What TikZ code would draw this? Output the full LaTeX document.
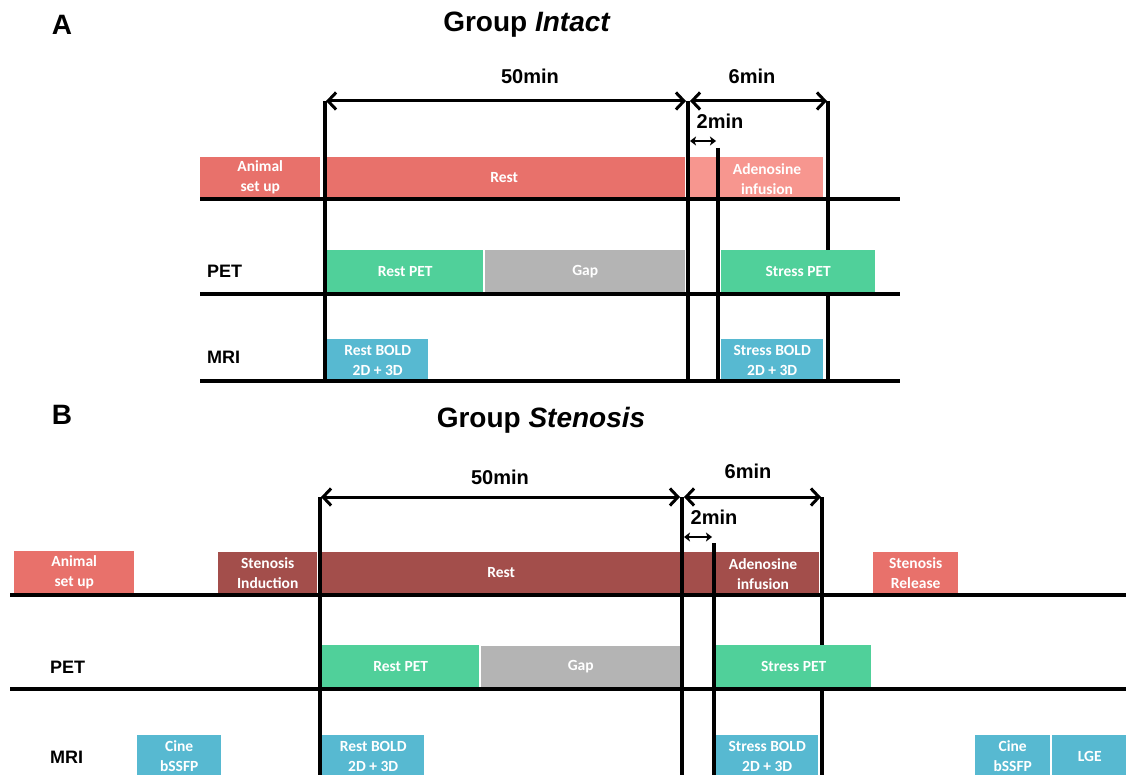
\documentclass[tikz,border=0pt]{standalone}
\usepackage{fontspec}
\setmainfont{Liberation Sans}
\newfontfamily\boxfont{Carlito}
\usetikzlibrary{arrows.meta}
\definecolor{salmon}{HTML}{E8716B}
\definecolor{pinkl}{HTML}{F7968F}
\definecolor{darkred}{HTML}{A34E4B}
\definecolor{petgreen}{HTML}{50D09A}
\definecolor{gapgray}{HTML}{B4B4B4}
\definecolor{mriblue}{HTML}{57B9D1}
\begin{document}
\begin{tikzpicture}[x=1pt,y=-1pt,
 box/.style={rectangle, inner sep=0pt, anchor=north west, text=white, align=center,
   font=\boxfont\bfseries\fontsize{15.5}{20}\selectfont},
 boxtext/.style={text=white, align=center, inner sep=0pt, font=\boxfont\bfseries\fontsize{15.5}{20}\selectfont},
 rowlab/.style={font=\bfseries\fontsize{18}{20}\selectfont, anchor=west, inner sep=0pt},
 dimlab/.style={font=\bfseries\fontsize{20}{22}\selectfont, inner sep=0pt},
 headlab/.style={font=\bfseries\fontsize{28}{30}\selectfont, inner sep=0pt},
 tline/.style={line width=3.5pt},
 vline/.style={line width=3.5pt},
 dimarrow/.style={line width=3pt, {Straight Barb[length=8pt,width=17pt]}-{Straight Barb[length=8pt,width=17pt]}},
 smallarrow/.style={line width=2.2pt, {Stealth[length=6pt,width=9pt,inset=1.5pt]}-{Stealth[length=6pt,width=9pt,inset=1.5pt]}},
]
\useasboundingbox (0,0) rectangle (1126,775);

% ================= PART A =================
\node[headlab] (hA) at (62,25) {A};
\node[headlab] (tA) at (527,25) {Group \textit{Intact}};

% row 1 boxes
\node[box, fill=salmon, minimum width=120pt, minimum height=40pt] (aSetup) at (200,157) {Animal\\set up};
\node[box, fill=salmon, minimum width=362pt, minimum height=40pt] (aRest) at (323,157) {Rest};
\node[box, fill=pinkl, minimum width=133pt, minimum height=40pt] (aAdeno) at (690,157) {};
\node[boxtext] (aAdenoT) at (767,179) {Adenosine\\infusion};

% vertical lines
\coordinate (a1t) at (325,101); \coordinate (a1b) at (325,383);
\coordinate (a2t) at (688,101); \coordinate (a2b) at (688,383);
\coordinate (a3t) at (828,101); \coordinate (a3b) at (828,383);
\coordinate (a4t) at (718,148); \coordinate (a4b) at (718,383);
\draw[vline] (a1t) -- (a1b);
\draw[vline] (a2t) -- (a2b);
\draw[vline] (a3t) -- (a3b);
\draw[vline] (a4t) -- (a4b);

% dimension arrows
\coordinate (a50l) at (326,101); \coordinate (a50r) at (686,101);
\coordinate (a6l) at (690,101); \coordinate (a6r) at (827,101);
\coordinate (a2l) at (690,141); \coordinate (a2r) at (716,141);
\draw[dimarrow] (a50l) -- (a50r);
\draw[dimarrow] (a6l) -- (a6r);
\draw[smallarrow] (a2l) -- (a2r);
\node[dimlab] (a50) at (530,76) {50min};
\node[dimlab] (a6) at (752,76) {6min};
\node[dimlab] (a2) at (720,121) {2min};

% PET row
\node[rowlab] (aPET) at (207,271) {PET};
\node[box, fill=petgreen, minimum width=156pt, minimum height=42pt] (aRestPET) at (327,250) {Rest PET};
\node[box, fill=gapgray, minimum width=200pt, minimum height=42pt] (aGap) at (485,250) {Gap};
\node[box, fill=petgreen, minimum width=154pt, minimum height=42pt] (aStressPET) at (721,250) {Stress PET};

% MRI row
\node[rowlab] (aMRI) at (207,357) {MRI};
\node[box, fill=mriblue, minimum width=101pt, minimum height=42pt] (aRestBOLD) at (327,339) {Rest BOLD\\2D + 3D};
\node[box, fill=mriblue, minimum width=102pt, minimum height=42pt] (aStressBOLD) at (721,339) {Stress BOLD\\2D + 3D};

% horizontal lines
\coordinate (aL1a) at (200,199); \coordinate (aL1b) at (900,199);
\coordinate (aL2a) at (200,294); \coordinate (aL2b) at (900,294);
\coordinate (aL3a) at (200,381); \coordinate (aL3b) at (900,381);
\draw[tline] (aL1a) -- (aL1b);
\draw[tline] (aL2a) -- (aL2b);
\draw[tline] (aL3a) -- (aL3b);

% ================= PART B =================
\node[headlab] (hB) at (62,415) {B};
\node[headlab] (tB) at (541,420) {Group \textit{Stenosis}};

% row 1 boxes
\node[box, fill=salmon, minimum width=120pt, minimum height=42pt] (bSetup) at (14,551) {Animal\\set up};
\node[box, fill=darkred, minimum width=99pt, minimum height=41pt] (bInd) at (218,552) {Stenosis\\Induction};
\node[box, fill=darkred, minimum width=358pt, minimum height=41pt] (bRest) at (322,552) {Rest};
\node[box, fill=darkred, minimum width=135pt, minimum height=41pt] (bAdeno) at (684,552) {};
\node[boxtext] (bAdenoT) at (763,574) {Adenosine\\infusion};
\node[box, fill=salmon, minimum width=85pt, minimum height=41pt] (bRel) at (873,552) {Stenosis\\Release};

% vertical lines
\coordinate (b1t) at (320,497); \coordinate (b1b) at (320,776);
\coordinate (b2t) at (682,497); \coordinate (b2b) at (682,776);
\coordinate (b3t) at (822,497); \coordinate (b3b) at (822,776);
\coordinate (b4t) at (714,543); \coordinate (b4b) at (714,776);
\draw[vline] (b1t) -- (b1b);
\draw[vline] (b2t) -- (b2b);
\draw[vline] (b3t) -- (b3b);
\draw[vline] (b4t) -- (b4b);

% dimension arrows
\coordinate (b50l) at (321,497); \coordinate (b50r) at (680,497);
\coordinate (b6l) at (684,497); \coordinate (b6r) at (821,497);
\coordinate (b2l) at (684,537); \coordinate (b2r) at (712,537);
\draw[dimarrow] (b50l) -- (b50r);
\draw[dimarrow] (b6l) -- (b6r);
\draw[smallarrow] (b2l) -- (b2r);
\node[dimlab] (b50) at (500,477) {50min};
\node[dimlab] (b6) at (748,471) {6min};
\node[dimlab] (b2) at (714,517) {2min};

% PET row
\node[rowlab] (bPET) at (50,667) {PET};
\node[box, fill=petgreen, minimum width=157pt, minimum height=42pt] (bRestPET) at (322,645) {Rest PET};
\node[box, fill=gapgray, minimum width=199pt, minimum height=41pt] (bGap) at (481,646) {Gap};
\node[box, fill=petgreen, minimum width=155pt, minimum height=42pt] (bStressPET) at (716,645) {Stress PET};

% MRI row
\node[rowlab] (bMRI) at (50,757) {MRI};
\node[box, fill=mriblue, minimum width=84pt, minimum height=42pt] (bCine1) at (137,735) {Cine\\bSSFP};
\node[box, fill=mriblue, minimum width=102pt, minimum height=42pt] (bRestBOLD) at (322,735) {Rest BOLD\\2D + 3D};
\node[box, fill=mriblue, minimum width=102pt, minimum height=42pt] (bStressBOLD) at (716,735) {Stress BOLD\\2D + 3D};
\node[box, fill=mriblue, minimum width=75pt, minimum height=42pt] (bCine2) at (975,735) {Cine\\bSSFP};
\node[box, fill=mriblue, minimum width=75pt, minimum height=42pt] (bLGE) at (1052,735) {LGE};

% horizontal lines
\coordinate (bL1a) at (10,595); \coordinate (bL1b) at (1126,595);
\coordinate (bL2a) at (10,689); \coordinate (bL2b) at (1126,689);
\draw[tline] (bL1a) -- (bL1b);
\draw[tline] (bL2a) -- (bL2b);
\end{tikzpicture}
\end{document}
